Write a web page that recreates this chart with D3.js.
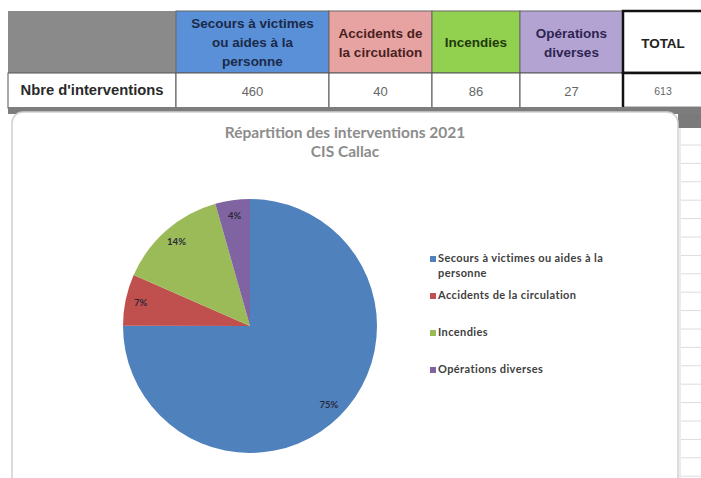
<!DOCTYPE html>
<html>
<head>
<meta charset="utf-8">
<script src="https://cdn.jsdelivr.net/npm/d3@7"></script>
<style>
  body { margin: 0; background: #fff; }
  svg { display: block; }
</style>
</head>
<body>
<svg width="701" height="478"></svg>
<script>
(function () {
  // data
  var categories = ["Secours à victimes ou aides à la personne", "Accidents de la circulation", "Incendies", "Opérations diverses"];
  var headerLines = [["Secours à victimes", "ou aides à la", "personne"], ["Accidents de", "la circulation"], ["Incendies"], ["Opérations", "diverses"]];
  var values = [460, 40, 86, 27];
  var total = 613;
  var rowLabel = "Nbre d'interventions";
  var totalLabel = "TOTAL";
  var title = ["Répartition des interventions 2021", "CIS Callac"];
  var legendLines = [["Secours à victimes ou aides à la", "personne"], ["Accidents de la circulation"], ["Incendies"], ["Opérations diverses"]];

  var pieColors = ["#4f81bd", "#c0504d", "#9bbb59", "#8064a2"];
  var headColors = ["#5a90d8", "#e6a3a1", "#92d050", "#b3a3d3"];
  var headText = ["#1b2a48", "#4a1f1f", "#1f3a0c", "#2e2450"];

  var svg = d3.select("svg");

  // spreadsheet background on the right
  var grid = svg.append("g");
  grid.append("rect").attr("x", 678).attr("y", 112).attr("width", 23).attr("height", 16).attr("fill", "#7a7a7a");
  grid.append("line").attr("x1", 680).attr("x2", 680).attr("y1", 128).attr("y2", 478).attr("stroke", "#d8d8d8");
  grid.selectAll(".gl")
    .data(d3.range(145, 478, 18.4))
    .enter().append("line")
    .attr("x1", 681).attr("x2", 701)
    .attr("y1", d => d).attr("y2", d => d)
    .attr("stroke", "#dcdcdc");

  // table
  var cols = [8, 176, 329, 432, 520, 623, 705];
  var rowY = [11, 73, 108];
  var table = svg.append("g").attr("font-family", "Liberation Sans, Arial, sans-serif");

  table.append("rect").attr("x", cols[0]).attr("y", rowY[0]).attr("width", cols[1] - cols[0]).attr("height", rowY[1] - rowY[0]).attr("fill", "#8a8a8a");
  table.append("rect").attr("x", cols[0]).attr("y", rowY[1]).attr("width", cols[1] - cols[0]).attr("height", rowY[2] - rowY[1]).attr("fill", "#fff").attr("stroke", "#555");
  table.append("text").attr("x", 92).attr("y", 95).attr("text-anchor", "middle").attr("font-size", 14).attr("font-weight", "bold").attr("fill", "#2a2a2a")
    .attr("textLength", 143).attr("lengthAdjust", "spacingAndGlyphs").text(rowLabel);

  var heads = table.selectAll(".head")
    .data(categories)
    .enter().append("g");

  heads.append("rect")
    .attr("x", (d, i) => cols[i + 1]).attr("y", rowY[0])
    .attr("width", (d, i) => cols[i + 2] - cols[i + 1]).attr("height", rowY[1] - rowY[0])
    .attr("fill", (d, i) => headColors[i]).attr("stroke", "#666");

  heads.append("text")
    .attr("text-anchor", "middle")
    .attr("font-size", 13.5).attr("font-weight", "bold")
    .attr("fill", (d, i) => headText[i])
    .each(function (d, i) {
      var lines = headerLines[i];
      var cx = (cols[i + 1] + cols[i + 2]) / 2;
      var y0 = (rowY[0] + rowY[1]) / 2 - (lines.length - 1) * 9.5 + 5;
      d3.select(this).selectAll("tspan")
        .data(lines).enter().append("tspan")
        .attr("x", cx).attr("y", (l, j) => y0 + j * 19)
        .text(l => l);
    });

  table.selectAll(".val")
    .data(values)
    .enter().append("rect")
    .attr("x", (d, i) => cols[i + 1]).attr("y", rowY[1])
    .attr("width", (d, i) => cols[i + 2] - cols[i + 1]).attr("height", rowY[2] - rowY[1])
    .attr("fill", "#fff").attr("stroke", "#555");

  table.selectAll(".valt")
    .data(values)
    .enter().append("text")
    .attr("x", (d, i) => (cols[i + 1] + cols[i + 2]) / 2).attr("y", 96)
    .attr("text-anchor", "middle").attr("font-size", 13).attr("fill", "#666")
    .text(d => d);

  // total column
  table.append("rect").attr("x", cols[5]).attr("y", rowY[0]).attr("width", 90).attr("height", rowY[1] - rowY[0]).attr("fill", "#fff").attr("stroke", "#111").attr("stroke-width", 2.5);
  table.append("rect").attr("x", cols[5]).attr("y", rowY[1]).attr("width", 90).attr("height", rowY[2] - rowY[1]).attr("fill", "#fff").attr("stroke", "#111").attr("stroke-width", 2.5);
  table.append("text").attr("x", 663).attr("y", 48).attr("text-anchor", "middle").attr("font-size", 13.5).attr("font-weight", "bold").attr("fill", "#222").text(totalLabel);
  table.append("text").attr("x", 663).attr("y", 95).attr("text-anchor", "middle").attr("font-size", 10.5).attr("fill", "#666").text(total);

  // dark band under the table
  svg.append("rect").attr("x", cols[0]).attr("y", 107).attr("width", 701 - cols[0]).attr("height", 7).attr("fill", "#7d7d7d");

  // chart area
  svg.append("rect")
    .attr("x", 12).attr("y", 112).attr("width", 666).attr("height", 400).attr("rx", 11)
    .attr("fill", "#fff").attr("stroke", "#cfcfcf").attr("stroke-width", 1.5);

  var chart = svg.append("g").attr("font-family", "Lato, Open Sans, sans-serif");

  chart.selectAll(".title")
    .data(title)
    .enter().append("text")
    .attr("x", 345).attr("y", (d, i) => 138 + i * 19)
    .attr("text-anchor", "middle").attr("font-size", 15.5).attr("font-weight", "bold")
    .attr("fill", "#8c8c8c")
    .text(d => d);

  // pie
  var cx = 250, cy = 326, r = 127;
  var pie = d3.pie().sort(null).value(d => d);
  var arcs = pie(values);
  var arc = d3.arc().innerRadius(0).outerRadius(r);
  var labelArc = d3.arc().innerRadius(r * 0.88).outerRadius(r * 0.88);
  var pct = d3.format(".0%");
  var sum = d3.sum(values);

  var g = chart.append("g").attr("transform", `translate(${cx},${cy})`);
  g.selectAll("path")
    .data(arcs)
    .enter().append("path")
    .attr("d", arc)
    .attr("fill", (d, i) => pieColors[i]);

  g.selectAll(".lbl")
    .data(arcs)
    .enter().append("text")
    .attr("transform", d => `translate(${labelArc.centroid(d)})`)
    .attr("text-anchor", "middle").attr("dy", "0.35em")
    .attr("font-size", 9.5).attr("font-weight", "bold").attr("fill", "#2a2a3a")
    .text(d => pct(d.value / sum));

  // legend
  var legendY = [262, 299, 336, 373];
  var legend = chart.selectAll(".leg")
    .data(categories)
    .enter().append("g")
    .attr("transform", (d, i) => `translate(430,${legendY[i]})`);

  legend.append("rect")
    .attr("x", 0).attr("y", -6).attr("width", 6).attr("height", 6)
    .attr("fill", (d, i) => pieColors[i]);

  legend.append("text")
    .attr("font-size", 11).attr("font-weight", "bold").attr("fill", "#404040")
    .attr("letter-spacing", 0.4)
    .each(function (d, i) {
      d3.select(this).selectAll("tspan")
        .data(legendLines[i]).enter().append("tspan")
        .attr("x", 8).attr("y", (l, j) => j * 15)
        .text(l => l);
    });
})();
</script>
</body>
</html>
